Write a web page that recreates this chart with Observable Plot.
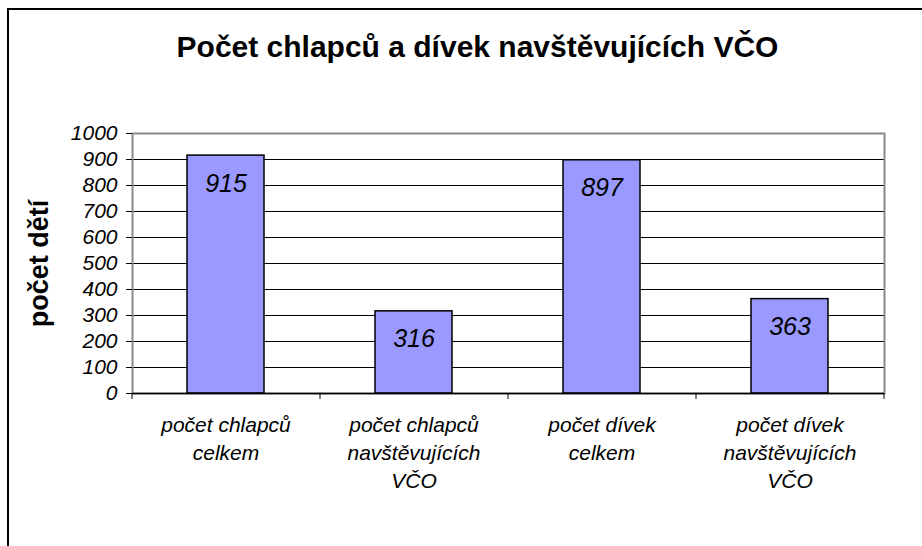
<!DOCTYPE html>
<html><head><meta charset="utf-8">
<script src="https://cdn.jsdelivr.net/npm/d3@7"></script>
<script src="https://cdn.jsdelivr.net/npm/@observablehq/plot@0.6"></script>
<style>
body{margin:0;background:#fff;font-family:"Liberation Sans",Arial,sans-serif}
#wrap{position:relative;width:922px;height:546px;overflow:hidden}
#frame{position:absolute;left:7px;top:8px;width:1000px;height:1000px;border-left:2px solid #000;border-top:2px solid #000;pointer-events:none}
#wrap svg{position:absolute;left:0;top:0}
</style></head><body><div id="wrap"><div id="frame"></div></div>
<script>
const title = "Počet chlapců a dívek navštěvujících VČO";
const yLabel = "počet dětí";
const categories = ["počet chlapců celkem", "počet chlapců navštěvujících VČO", "počet dívek celkem", "počet dívek navštěvujících VČO"];
const tickLabels = ["počet chlapců\ncelkem", "počet chlapců\nnavštěvujících\nVČO", "počet dívek\ncelkem", "počet dívek\nnavštěvujících\nVČO"];
const values = [915, 316, 897, 363];
const yTicks = [0, 100, 200, 300, 400, 500, 600, 700, 800, 900, 1000];

const data = categories.map((c, i) => ({category: c, value: values[i]}));
const font = "'Liberation Sans', Arial, sans-serif";

const chart = Plot.plot({
  width: 922, height: 546,
  marginLeft: 132, marginRight: 38, marginTop: 133, marginBottom: 153,
  style: {fontFamily: font, background: "transparent", overflow: "visible", color: "#000"},
  x: {domain: categories, paddingInner: 0.59, paddingOuter: 0.295, label: null, axis: null},
  y: {domain: [0, 1000], label: null, axis: null},
  marks: [
    Plot.gridY(yTicks, {stroke: "#000", strokeOpacity: 1, strokeWidth: 1}),
    Plot.frame({stroke: "#8a8a8a", strokeWidth: 2}),
    Plot.barY(data, {x: "category", y: "value", fill: "#9999ff", stroke: "#000", strokeWidth: 1.5}),
    Plot.text(data, {x: "category", y: "value", text: d => String(d.value), dy: 28, fontSize: 25, fontStyle: "italic", fill: "#000"}),
    Plot.ruleY([0], {stroke: "#000", strokeWidth: 1.5}),
    Plot.axisY(yTicks, {tickFormat: d => String(d), tickSize: 6, tickPadding: 9, fontSize: 21, fontStyle: "italic", stroke: "#000", fill: "#000", label: null}),
    Plot.axisX({tickFormat: d => tickLabels[categories.indexOf(d)], tickSize: 0, tickPadding: 19, fontSize: 21, fontStyle: "italic", lineHeight: 1.33, fill: "#000", label: null}),
    Plot.ruleX(data, {x: "category", dx: -94, y1: 0, y2: 0, insetBottom: -6, stroke: "#000"}),
    Plot.ruleX(data.slice(-1), {x: "category", dx: 94, y1: 0, y2: 0, insetBottom: -6, stroke: "#000"}),
    Plot.text([yLabel], {frameAnchor: "left", dx: -93, rotate: -90, textAnchor: "middle", lineAnchor: "middle", fontWeight: "bold", fontSize: 27, fill: "#000"}),
    Plot.text([title], {frameAnchor: "top", dx: -31, dy: -86, textAnchor: "middle", lineAnchor: "middle", fontWeight: "bold", fontSize: 30, fill: "#000"})
  ]
});
document.getElementById("wrap").appendChild(chart);
</script>
</body></html>
